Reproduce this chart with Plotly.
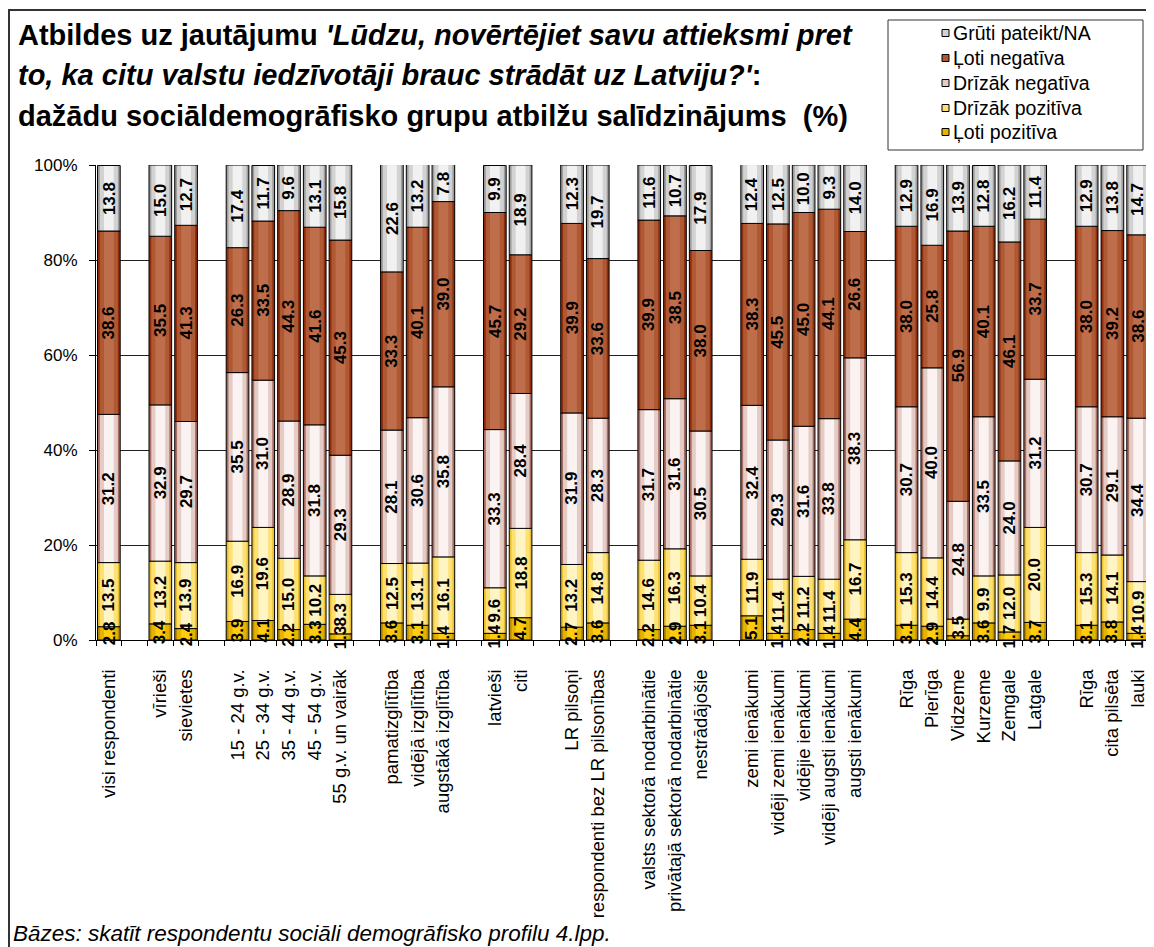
import plotly.graph_objects as go

# ---------------- data ----------------
labels = ["visi respondenti", "", "vīrieši", "sievietes", "",
          "15 - 24 g.v.", "25 - 34 g.v.", "35 - 44 g.v.", "45 - 54 g.v.", "55 g.v. un vairāk", "",
          "pamatizglītība", "vidējā izglītība", "augstākā izglītība", "",
          "latvieši", "citi", "",
          "LR pilsoņi", "respondenti bez LR pilsonības", "",
          "valsts sektorā nodarbinātie", "privātajā sektorā nodarbinātie", "nestrādājošie", "",
          "zemi ienākumi", "vidēji zemi ienākumi", "vidējie ienākumi", "vidēji augsti ienākumi", "augsti ienākumi", "",
          "Rīga", "Pierīga", "Vidzeme", "Kurzeme", "Zemgale", "Latgale", "",
          "Rīga", "cita pilsēta", "lauki"]

loti_poz = [2.8, None, 3.4, 2.4, None, 3.9, 4.1, 2.2, 3.3, 1.3, None, 3.6, 3.1, 1.4, None,
            1.4, 4.7, None, 2.7, 3.6, None, 2.2, 2.9, 3.1, None, 5.1, 1.4, 2.2, 1.4, 4.4, None,
            3.1, 2.9, 0.9, 3.6, 1.7, 3.7, None, 3.1, 3.8, 1.4]
drizak_poz = [13.5, None, 13.2, 13.9, None, 16.9, 19.6, 15.0, 10.2, 8.3, None, 12.5, 13.1, 16.1, None,
              9.6, 18.8, None, 13.2, 14.8, None, 14.6, 16.3, 10.4, None, 11.9, 11.4, 11.2, 11.4, 16.7, None,
              15.3, 14.4, 3.5, 9.9, 12.0, 20.0, None, 15.3, 14.1, 10.9]
drizak_neg = [31.2, None, 32.9, 29.7, None, 35.5, 31.0, 28.9, 31.8, 29.3, None, 28.1, 30.6, 35.8, None,
              33.3, 28.4, None, 31.9, 28.3, None, 31.7, 31.6, 30.5, None, 32.4, 29.3, 31.6, 33.8, 38.3, None,
              30.7, 40.0, 24.8, 33.5, 24.0, 31.2, None, 30.7, 29.1, 34.4]
loti_neg = [38.6, None, 35.5, 41.3, None, 26.3, 33.5, 44.3, 41.6, 45.3, None, 33.3, 40.1, 39.0, None,
            45.7, 29.2, None, 39.9, 33.6, None, 39.9, 38.5, 38.0, None, 38.3, 45.5, 45.0, 44.1, 26.6, None,
            38.0, 25.8, 56.9, 40.1, 46.1, 33.7, None, 38.0, 39.2, 38.6]
gruti = [13.8, None, 15.0, 12.7, None, 17.4, 11.7, 9.6, 13.1, 15.8, None, 22.6, 13.2, 7.8, None,
         9.9, 18.9, None, 12.3, 19.7, None, 11.6, 10.7, 17.9, None, 12.4, 12.5, 10.0, 9.3, 14.0, None,
         12.9, 16.9, 13.9, 12.8, 16.2, 11.4, None, 12.9, 13.8, 14.7]

series_names = ["Ļoti pozitīva", "Drīzāk pozitīva", "Drīzāk negatīva", "Ļoti negatīva", "Grūti pateikt/NA"]
series_values = [loti_poz, drizak_poz, drizak_neg, loti_neg, gruti]
y_ticks = [0, 20, 40, 60, 80, 100]

# ---------------- style ----------------
FONT = "Liberation Sans, Arial, sans-serif"
# (edge, mid, centre) shades imitating the cylinder gradient
shades = [
    ("#B88C00", "#E4B400", "#FFCC10"),
    ("#E9C231", "#FFE173", "#FFF4C4"),
    ("#A66E63", "#E4CBC5", "#FAF3F1"),
    ("#8E2C0C", "#AE5934", "#BE6E4B"),
    ("#9E9E9E", "#D2D2D2", "#F1F1F1"),
]
BAR_W = 0.88
layer_widths = [BAR_W, 0.70, 0.38]

# the page body has an 8px margin; positions below are screen pixels minus it
OFF = 8
W, H = 1154 - OFF, 947 - OFF
L, R, T, B = 96 - OFF, 1151 - OFF, 165 - OFF, 640 - OFF


def fx(px):
    return (px - OFF - L) / (R - L)


def fy(py):
    return (B - (py - OFF)) / (B - T)


x = list(range(len(labels)))

fig = go.Figure()
annotations = []

bases = [0.0] * len(labels)
for name, vals, sh in zip(series_names, series_values, shades):
    base = [bases[i] if vals[i] is not None else None for i in x]
    for w, col in zip(layer_widths, sh):
        fig.add_trace(go.Bar(x=x, y=vals, base=base, width=w, name=name,
                             marker=dict(color=col, line=dict(width=0)),
                             showlegend=False, hoverinfo="skip"))
    fig.add_trace(go.Bar(x=x, y=vals, base=base, width=BAR_W, name=name,
                         marker=dict(color="rgba(0,0,0,0)", line=dict(color="black", width=1)),
                         showlegend=False))
    for i in x:
        v = vals[i]
        if v is None:
            continue
        if v >= 1.0:
            annotations.append(dict(x=i, y=bases[i] + v / 2, xref="x", yref="y",
                                    text="<b>%.1f</b>" % v, textangle=-90, showarrow=False,
                                    font=dict(family=FONT, size=17, color="black")))
        bases[i] += v

# title lines (screen pixel y of each line)
title_lines = [
    ("<b>Atbildes uz jautājumu </b><b><i>'Lūdzu, novērtējiet savu attieksmi pret</i></b>", 35),
    ("<b><i>to, ka citu valstu iedzīvotāji brauc strādāt uz Latviju?'</i>:</b>", 75),
    ("<b>dažādu sociāldemogrāfisko grupu atbilžu salīdzinājums\u00a0 (%)</b>", 116),
]
for txt, py in title_lines:
    annotations.append(dict(x=fx(16), y=fy(py), xref="paper", yref="paper", text=txt,
                            xanchor="left", yanchor="middle", showarrow=False,
                            font=dict(family=FONT, size=29, color="black")))

# footer
annotations.append(dict(x=fx(11), y=fy(933), xref="paper", yref="paper",
                        text="<i>Bāzes: skatīt respondentu sociāli demogrāfisko profilu 4.lpp.</i>",
                        xanchor="left", yanchor="middle", showarrow=False,
                        font=dict(family=FONT, size=22.5, color="black")))

shapes = []
# outer chart border
shapes.append(dict(type="rect", xref="paper", yref="paper", x0=fx(9), x1=fx(1175), y0=fy(975), y1=fy(10),
                   line=dict(color="#333333", width=2), fillcolor="rgba(0,0,0,0)", layer="above"))
# legend box
shapes.append(dict(type="rect", xref="paper", yref="paper", x0=fx(888), x1=fx(1143), y0=fy(150), y1=fy(20),
                   line=dict(color="#333333", width=1), fillcolor="white", layer="above"))
leg_y = [33, 58, 83, 108, 132]
for k, (name, sh) in enumerate(reversed(list(zip(series_names, shades)))):
    py = leg_y[k]
    shapes.append(dict(type="rect", xref="paper", yref="paper", x0=fx(942), x1=fx(949),
                       y0=fy(py + 3.5), y1=fy(py - 3.5), line=dict(color="black", width=1),
                       fillcolor=sh[1], layer="above"))
    annotations.append(dict(x=fx(951), y=fy(py), xref="paper", yref="paper", text=name,
                            xanchor="left", yanchor="middle", showarrow=False,
                            font=dict(family=FONT, size=19.5, color="black")))

tick_idx = [i for i in x if labels[i]]
fig.update_layout(
    width=W, height=H,
    margin=dict(l=L, r=W - R, t=T, b=H - B, pad=0),
    barmode="overlay",
    paper_bgcolor="white", plot_bgcolor="white",
    showlegend=False,
    font=dict(family=FONT, color="black"),
    annotations=annotations,
    shapes=shapes,
    xaxis=dict(range=[-0.5, len(labels) - 0.5], tickmode="array", tickvals=tick_idx,
               ticktext=[labels[i] for i in tick_idx], tickangle=-90, ticks="",
               tickfont=dict(family=FONT, size=18.5, color="black"),
               showline=True, linecolor="black", linewidth=1, showgrid=False, zeroline=False,
               ticklabelstandoff=21,
               minor=dict(tickmode="array", tickvals=[i - 0.5 for i in range(len(labels) + 1)],
                          ticks="outside", ticklen=5, tickcolor="black", showgrid=False)),
    yaxis=dict(range=[0, 100], tickmode="array", tickvals=y_ticks,
               ticktext=["%d%%" % v for v in y_ticks],
               ticks="outside", ticklen=6, tickcolor="black",
               tickfont=dict(family=FONT, size=17, color="black"),
               showline=True, linecolor="black", linewidth=1,
               showgrid=True, gridcolor="#222222", gridwidth=1, zeroline=False,
               ticklabelstandoff=8),
)

fig.write_html("out.html")
